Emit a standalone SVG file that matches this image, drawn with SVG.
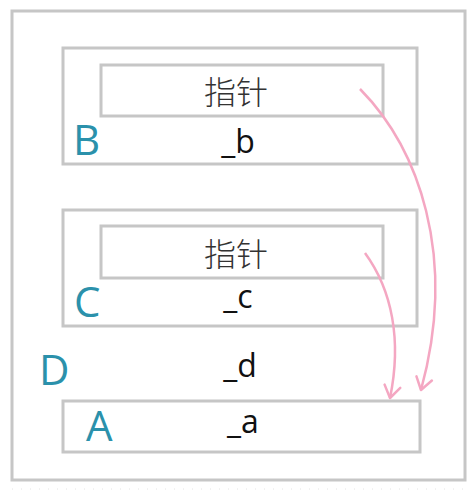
<svg xmlns="http://www.w3.org/2000/svg" width="476" height="492" viewBox="0 0 476 492">
<style>
.box{fill:#fff;stroke:#c6c6c6;stroke-width:3}
.cn{font-family:"Noto Sans CJK SC","Noto Sans",sans-serif;font-size:32px;fill:#333;text-anchor:middle;font-weight:300}
.var{font-family:"Open Sans","Noto Sans",sans-serif;font-size:32px;fill:#111;text-anchor:middle}
.lbl{font-family:"Open Sans","Noto Sans",sans-serif;font-size:42px;fill:#2b91ab}
.arr{fill:none;stroke:#f4a7c2;stroke-width:2.5;marker-end:url(#head)}
</style>
<defs>
<marker id="head" viewBox="0 0 20 20" refX="17" refY="10" markerWidth="20" markerHeight="20" markerUnits="userSpaceOnUse" orient="auto">
<path d="M5,2 L17,10 L5,18" fill="none" stroke="#f4a7c2" stroke-width="2.5" stroke-linecap="round" stroke-linejoin="round"/>
</marker>
</defs>
<rect x="0" y="0" width="476" height="492" fill="#fff"/>
<line x1="12" y1="489" x2="465" y2="489" stroke="#e4e4e4" stroke-width="1" stroke-dasharray="1 8"/>
<g id="D">
<rect class="box" x="12" y="11" width="453" height="469"/>
<text class="lbl" x="39" y="385">D</text>
<text class="var" x="240" y="377">_d</text>
</g>
<g id="B">
<rect class="box" x="63" y="48" width="354" height="116"/>
<rect class="box" x="101" y="65" width="282" height="51"/>
<text class="cn" x="236" y="104">指针</text>
<text class="lbl" x="73" y="155">B</text>
<text class="var" x="238" y="153">_b</text>
</g>
<g id="C">
<rect class="box" x="63" y="210" width="354" height="116"/>
<rect class="box" x="101" y="226" width="282" height="52"/>
<text class="cn" x="236" y="266">指针</text>
<text class="lbl" x="74" y="317">C</text>
<text class="var" x="238" y="308">_c</text>
</g>
<g id="A">
<rect class="box" x="63" y="401" width="357" height="51"/>
<text class="lbl" x="86" y="441">A</text>
<text class="var" x="243" y="433">_a</text>
</g>
<g id="connectors">
<path class="arr" d="M360,89 C418,148 458,255 421,390"/>
<path class="arr" d="M365,253 C392,290 402,340 390,398"/>
</g>
</svg>
